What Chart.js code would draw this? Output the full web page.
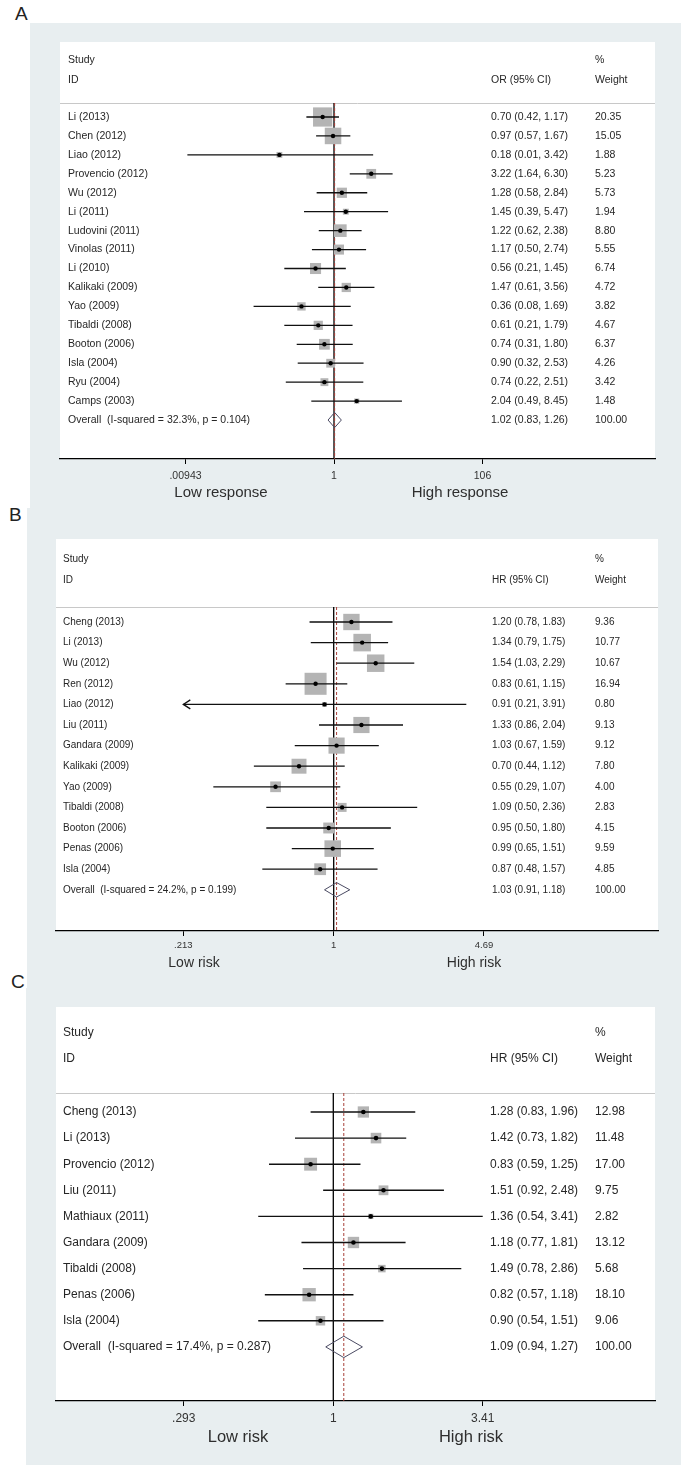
<!DOCTYPE html>
<html><head><meta charset="utf-8">
<script src="https://cdn.jsdelivr.net/npm/chart.js@4.4.1/dist/chart.umd.min.js"></script>
<style>
html,body{margin:0;padding:0;background:#fff;width:686px;height:1470px;overflow:hidden;position:relative;}
canvas.panel{position:absolute;background:#e8eef0;display:block;}
.lbl{position:absolute;font-family:"Liberation Sans",Arial,sans-serif;font-size:19px;line-height:19px;color:#222;}
</style></head><body>
<div class="lbl" style="left:15px;top:4px">A</div>
<div class="lbl" style="left:9px;top:505px">B</div>
<div class="lbl" style="left:11px;top:972px">C</div>
<canvas id="cA" class="panel"></canvas>
<canvas id="cB" class="panel"></canvas>
<canvas id="cC" class="panel"></canvas>
<script>
// ---------- Panel A data ----------
const studiesA = ['Li (2013)','Chen (2012)','Liao (2012)','Provencio (2012)','Wu (2012)','Li (2011)','Ludovini (2011)','Vinolas (2011)','Li (2010)','Kalikaki (2009)','Yao (2009)','Tibaldi (2008)','Booton (2006)','Isla (2004)','Ryu (2004)','Camps (2003)'];
const estA = [0.70,0.97,0.18,3.22,1.28,1.45,1.22,1.17,0.56,1.47,0.36,0.61,0.74,0.90,0.74,2.04];
const loA  = [0.42,0.57,0.01,1.64,0.58,0.39,0.62,0.50,0.21,0.61,0.08,0.21,0.31,0.32,0.22,0.49];
const hiA  = [1.17,1.67,3.42,6.30,2.84,5.47,2.38,2.74,1.45,3.56,1.69,1.79,1.80,2.53,2.51,8.45];
const wtA  = [20.35,15.05,1.88,5.23,5.73,1.94,8.80,5.55,6.74,4.72,3.82,4.67,6.37,4.26,3.42,1.48];
const overallA = [1.02,0.83,1.26];
const hetA = [32.3,0.104];
const ticksA = [0.00943,1,106];
const tickLabelsA = ['.00943','1','106'];
const favoursA = ['Low response','High response'];
const measureA = 'OR';

// ---------- Panel B data ----------
const studiesB = ['Cheng (2013)','Li (2013)','Wu (2012)','Ren (2012)','Liao (2012)','Liu (2011)','Gandara (2009)','Kalikaki (2009)','Yao (2009)','Tibaldi (2008)','Booton (2006)','Penas (2006)','Isla (2004)'];
const estB = [1.20,1.34,1.54,0.83,0.91,1.33,1.03,0.70,0.55,1.09,0.95,0.99,0.87];
const loB  = [0.78,0.79,1.03,0.61,0.21,0.86,0.67,0.44,0.29,0.50,0.50,0.65,0.48];
const hiB  = [1.83,1.75,2.29,1.15,3.91,2.04,1.59,1.12,1.07,2.36,1.80,1.51,1.57];
const wtB  = [9.36,10.77,10.67,16.94,0.80,9.13,9.12,7.80,4.00,2.83,4.15,9.59,4.85];
const overallB = [1.03,0.91,1.18];
const hetB = [24.2,0.199];
const ticksB = [0.213,1,4.69];
const tickLabelsB = ['.213','1','4.69'];
const favoursB = ['Low risk','High risk'];
const measureB = 'HR';

// ---------- Panel C data ----------
const studiesC = ['Cheng (2013)','Li (2013)','Provencio (2012)','Liu (2011)','Mathiaux (2011)','Gandara (2009)','Tibaldi (2008)','Penas (2006)','Isla (2004)'];
const estC = [1.28,1.42,0.83,1.51,1.36,1.18,1.49,0.82,0.90];
const loC  = [0.83,0.73,0.59,0.92,0.54,0.77,0.78,0.57,0.54];
const hiC  = [1.96,1.82,1.25,2.48,3.41,1.81,2.86,1.18,1.51];
const wtC  = [12.98,11.48,17.00,9.75,2.82,13.12,5.68,18.10,9.06];
const overallC = [1.09,0.94,1.27];
const hetC = [17.4,0.287];
const ticksC = [0.293,1,3.41];
const tickLabelsC = ['.293','1','3.41'];
const favoursC = ['Low risk','High risk'];
const measureC = 'HR';

const FAM = '"Liberation Sans", Arial, sans-serif';
const fontStr = sz => sz + 'px ' + FAM;

function makePanel(id, D, L) {
  const cv = document.getElementById(id);
  cv.width = L.w; cv.height = L.h;
  Object.assign(cv.style, {left: L.x + 'px', top: L.y + 'px', width: L.w + 'px', height: L.h + 'px'});
  const n = D.studies.length;
  const row = py => (py - L.row0Y) / L.step;
  const ymin = row(L.innerY), ymax = row(L.axisY);
  const hdrLine = row(L.hdrLineY), hdr1 = row(L.hdr1Y), hdr2 = row(L.hdr2Y);
  const tMin = D.ticks[0], tMax = D.ticks[D.ticks.length - 1];
  const xmin = Math.exp((L.innerX - L.x1) / L.perLn);
  const xmax = Math.exp((L.innerR - L.x1) / L.perLn);
  const ci = [];
  D.studies.forEach((s, i) => {
    ci.push({x: Math.max(D.lo[i], tMin), y: i}, {x: Math.min(D.hi[i], tMax), y: i}, {x: null, y: null});
  });
  const pts = D.est.map((v, i) => ({x: v, y: i}));
  const boxR = D.wt.map(w => L.boxK * Math.sqrt(w) / Math.SQRT2);
  const [oe, ol, oh] = D.overall;
  const diamond = [{x: ol, y: n}, {x: oe, y: n - L.dH}, {x: oh, y: n}, {x: oe, y: n + L.dH}, {x: ol, y: n}];
  const cx = px => px - L.x;

  const plugin = {
    id: 'forest_' + id,
    beforeDraw(chart) {
      const {ctx, chartArea: a} = chart;
      ctx.save();
      ctx.fillStyle = '#ffffff';
      ctx.fillRect(a.left, a.top, a.right - a.left, a.bottom - a.top);
      const y = chart.scales.y;
      ctx.strokeStyle = '#c8c8c8';
      ctx.lineWidth = 1;
      const hy = Math.round(y.getPixelForValue(hdrLine)) + 0.5;
      ctx.beginPath(); ctx.moveTo(a.left, hy); ctx.lineTo(a.right, hy); ctx.stroke();
      ctx.restore();
    },
    afterDatasetsDraw(chart) {
      const {ctx} = chart;
      const xs = chart.scales.x, ys = chart.scales.y;
      ctx.save();
      ctx.strokeStyle = '#111'; ctx.lineWidth = L.ciW;
      D.studies.forEach((s, i) => {
        const py = ys.getPixelForValue(i);
        if (D.lo[i] < tMin) {
          const px = xs.getPixelForValue(tMin);
          ctx.beginPath(); ctx.moveTo(px + 7, py - 4.5); ctx.lineTo(px, py); ctx.lineTo(px + 7, py + 4.5); ctx.stroke();
        }
        if (D.hi[i] > tMax) {
          const px = xs.getPixelForValue(tMax);
          ctx.beginPath(); ctx.moveTo(px - 7, py - 4.5); ctx.lineTo(px, py); ctx.lineTo(px - 7, py + 4.5); ctx.stroke();
        }
      });
      ctx.restore();
    },
    afterDraw(chart) {
      const {ctx} = chart;
      const ys = chart.scales.y;
      ctx.save();
      ctx.fillStyle = '#262626';
      ctx.font = fontStr(L.fs);
      ctx.textBaseline = 'middle';
      ctx.textAlign = 'left';
      const Y = r => ys.getPixelForValue(r);
      ctx.fillText('Study', cx(L.labelX), Y(hdr1));
      ctx.fillText('ID', cx(L.labelX), Y(hdr2));
      ctx.fillText(D.measure + ' (95% CI)', cx(L.ciX), Y(hdr2));
      ctx.fillText('%', cx(L.wX), Y(hdr1));
      ctx.fillText('Weight', cx(L.wX), Y(hdr2));
      D.studies.forEach((s, i) => {
        ctx.fillText(s, cx(L.labelX), Y(i));
        ctx.fillText(D.est[i].toFixed(2) + ' (' + D.lo[i].toFixed(2) + ', ' + D.hi[i].toFixed(2) + ')', cx(L.ciX), Y(i));
        ctx.fillText(D.wt[i].toFixed(2), cx(L.wX), Y(i));
      });
      ctx.fillText('Overall  (I-squared = ' + D.het[0].toFixed(1) + '%, p = ' + D.het[1].toFixed(3) + ')', cx(L.labelX), Y(n));
      ctx.fillText(oe.toFixed(2) + ' (' + ol.toFixed(2) + ', ' + oh.toFixed(2) + ')', cx(L.ciX), Y(n));
      ctx.fillText('100.00', cx(L.wX), Y(n));
      ctx.fillStyle = '#2e2e2e';
      ctx.font = fontStr(L.favFs);
      ctx.textAlign = 'center';
      const fy = L.favY - L.y;
      ctx.fillText(D.favours[0], cx(L.favL), fy);
      ctx.fillText(D.favours[1], cx(L.favR), fy);
      ctx.restore();
    }
  };

  new Chart(cv, {
    type: 'scatter',
    data: {datasets: [
      {label: 'est', data: pts, pointStyle: 'circle', pointRadius: L.dotR, backgroundColor: '#000', borderWidth: 0, order: 0},
      {label: 'ci', data: ci, showLine: true, spanGaps: false, borderColor: '#111', borderWidth: L.ciW, pointRadius: 0, order: 1},
      {label: 'overall', data: diamond, showLine: true, borderColor: '#4b4b63', borderWidth: 1, pointRadius: 0, order: 1},
      {label: 'box', data: pts, pointStyle: 'rect', pointRadius: boxR, backgroundColor: '#b4b4b4', borderWidth: 0, order: 2},
      {label: 'effect', data: [{x: oe, y: hdrLine}, {x: oe, y: ymax}], showLine: true, borderColor: '#a8403a', borderWidth: 1, borderDash: [3, 2], pointRadius: 0, order: 3},
      {label: 'null', data: [{x: 1, y: hdrLine}, {x: 1, y: ymax}], showLine: true, borderColor: '#000', borderWidth: 1.3, pointRadius: 0, order: 4}
    ]},
    options: {
      responsive: false,
      animation: false,
      events: [],
      layout: {padding: {left: L.innerX - L.x, right: (L.x + L.w) - L.innerR, top: L.innerY - L.y, bottom: (L.y + L.h) - L.axisY - L.axisH}},
      plugins: {legend: {display: false}, tooltip: {enabled: false}},
      scales: {
        x: {
          type: 'logarithmic', min: xmin, max: xmax,
          afterBuildTicks: s => { s.ticks = D.ticks.map(v => ({value: v})); },
          afterFit: s => { s.height = L.axisH; },
          border: {display: true, color: '#000', width: 1.3},
          grid: {display: true, drawOnChartArea: false, drawTicks: true, tickLength: 5, color: '#000', lineWidth: 1},
          ticks: {font: {family: FAM, size: L.tickFs}, color: '#333', padding: L.tickPad, maxRotation: 0, autoSkip: false,
                  callback: (v, i) => D.tickLabels[i]}
        },
        y: {type: 'linear', display: false, min: ymin, max: ymax, reverse: true}
      }
    },
    plugins: [plugin]
  });
}

makePanel('cA',
  {studies: studiesA, est: estA, lo: loA, hi: hiA, wt: wtA, overall: overallA, het: hetA, ticks: ticksA, tickLabels: tickLabelsA, favours: favoursA, measure: measureA},
  {x: 30, y: 23, w: 651, h: 485, innerX: 60, innerR: 655, innerY: 42, axisY: 459, axisH: 20,
   row0Y: 117, step: 18.94, hdr1Y: 60, hdr2Y: 80, hdrLineY: 103, labelX: 68, ciX: 491, wX: 595,
   fs: 10.5, tickFs: 10.5, tickPad: 6, favFs: 15, favY: 493, favL: 221, favR: 460, dH: 0.4, boxK: 4.26, dotR: 2.2, ciW: 1.3,
   x1: 334, perLn: 31.84});

makePanel('cB',
  {studies: studiesB, est: estB, lo: loB, hi: hiB, wt: wtB, overall: overallB, het: hetB, ticks: ticksB, tickLabels: tickLabelsB, favours: favoursB, measure: measureB},
  {x: 27, y: 508, w: 654, h: 480, innerX: 56, innerR: 658, innerY: 539, axisY: 931, axisH: 20,
   row0Y: 622, step: 20.6, hdr1Y: 559, hdr2Y: 580, hdrLineY: 607, labelX: 63, ciX: 492, wX: 595,
   fs: 10, tickFs: 9.5, tickPad: 4, favFs: 14, favY: 963, favL: 194, favR: 474, dH: 0.35, boxK: 5.35, dotR: 2.2, ciW: 1.3,
   x1: 333.7, perLn: 97.25});

makePanel('cC',
  {studies: studiesC, est: estC, lo: loC, hi: hiC, wt: wtC, overall: overallC, het: hetC, ticks: ticksC, tickLabels: tickLabelsC, favours: favoursC, measure: measureC},
  {x: 26, y: 988, w: 655, h: 477, innerX: 56, innerR: 655, innerY: 1007, axisY: 1401, axisH: 22,
   row0Y: 1112, step: 26.1, hdr1Y: 1033, hdr2Y: 1059, hdrLineY: 1093, labelX: 63, ciX: 490, wX: 595,
   fs: 12, tickFs: 12, tickPad: 5, favFs: 16.5, favY: 1437, favL: 238, favR: 471, dH: 0.41, boxK: 3.13, dotR: 2.3, ciW: 1.4,
   x1: 333.3, perLn: 121.8});
</script>
</body></html>
